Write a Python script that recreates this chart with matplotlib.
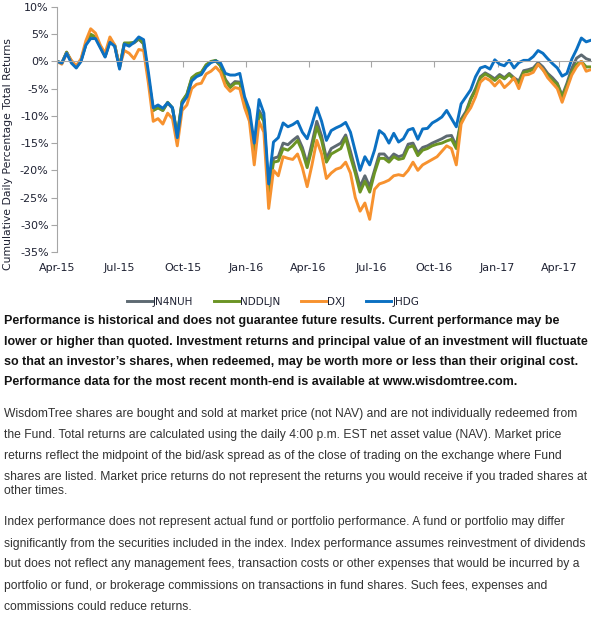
import pandas as pd
import matplotlib
matplotlib.use("Agg")
import matplotlib.pyplot as plt
import matplotlib.dates as mdates
from matplotlib.ticker import FuncFormatter

# weekly samples (cumulative % total return)
dates = pd.date_range("2015-04-01", periods=112, freq="7D")

jn4nuh = [0, -0.3, 1.7, 0, -1.1, 0.2, 3.1, 4.8, 4.4, 2.7,
          0.9, 3.7, 2.9, -1.1, 3.3, 3.2, 3.4, 4.1, 3.2, -3.0,
          -9.0, -8.5, -9.0, -7.6, -8.6, -13.5, -7.4, -6.1, -3.2, -2.4,
          -2.1, -0.7, -0.1, 0.1, -0.8, -3.3, -4.5, -3.7, -3.8, -7.3,
          -9.8, -17.0, -9.0, -10.6, -24.0, -17.8, -17.5, -15.0, -15.3, -14.5,
          -13.8, -15.8, -18.8, -15.0, -11.0, -13.7, -17.8, -16.0, -15.5, -15.0,
          -13.5, -16.5, -19.8, -23.0, -21.0, -23.0, -20.0, -17.0, -17.0, -18.0,
          -17.0, -17.5, -17.2, -15.2, -15.0, -16.8, -15.8, -15.5, -15.0, -14.6,
          -14.2, -13.7, -13.6, -15.5, -10.6, -9.2, -6.8, -5.0, -2.8, -2.1,
          -2.6, -3.2, -2.4, -3.0, -2.2, -3.0, -3.6, -1.7, -1.5, -1.2,
          -0.2, -1.0, -2.2, -3.0, -4.0, -6.3, -4.0, -1.3, 0.6, 1.2,
          0.5, 0.2]

nddljn = [0, -0.3, 1.7, 0, -1.0, 0.3, 3.2, 5.0, 4.5, 2.8,
          1.0, 3.8, 3.0, -1.0, 3.4, 3.4, 3.5, 4.2, 3.3, -3.0,
          -9.0, -8.5, -9.0, -7.5, -8.5, -13.5, -7.3, -6.0, -3.0, -2.3,
          -2.0, -0.6, 0.0, 0.2, -0.8, -3.5, -4.8, -4.0, -4.0, -7.5,
          -10.0, -17.5, -9.5, -11.0, -24.5, -18.5, -18.3, -16.0, -16.3, -15.5,
          -14.5, -16.5, -19.5, -16.0, -12.0, -14.5, -18.5, -17.0, -16.5, -16.0,
          -14.0, -17.5, -20.5, -24.0, -22.0, -24.0, -20.5, -17.8, -17.8, -18.5,
          -17.5, -18.0, -17.8, -15.8, -15.5, -17.3, -16.3, -16.0, -15.5, -15.2,
          -15.0, -14.6, -14.3, -16.0, -11.0, -9.6, -7.0, -5.3, -3.0, -2.3,
          -2.8, -3.5, -2.7, -3.2, -2.4, -3.3, -4.0, -2.0, -1.8, -1.5,
          -0.5, -1.5, -2.5, -3.5, -4.2, -6.5, -4.5, -2.0, -0.5, 0.0,
          -1.0, -1.0]

dxj = [0, -0.5, 1.5, 0.2, -0.8, 0.5, 3.8, 6.0, 5.2, 3.0,
       1.5, 4.5, 3.0, -1.0, 2.0, 1.5, 0.5, 2.2, 2.0, -4.0,
       -11.0, -10.5, -11.5, -9.5, -10.5, -15.5, -9.0, -8.0, -5.0, -4.2,
       -4.0, -2.3, -1.8, -1.0, -2.0, -4.5, -5.5, -4.8, -5.0, -8.5,
       -11.0, -19.0, -11.0, -13.0, -27.0, -20.0, -21.0, -17.5, -17.8, -18.0,
       -17.0, -19.5, -23.0, -19.0, -14.5, -17.0, -21.5, -20.5, -19.8, -19.5,
       -18.5, -20.5, -25.0, -27.5, -26.0, -29.0, -23.5, -22.5, -22.2, -21.8,
       -21.0, -20.8, -21.0, -20.0, -18.5, -20.0, -19.0, -18.5, -18.0, -17.5,
       -16.5, -15.5, -16.0, -19.0, -11.5, -9.8, -8.5, -6.5, -3.8, -3.0,
       -3.5, -4.5, -3.5, -4.8, -4.0, -3.0, -5.0, -2.5, -2.4, -2.0,
       -0.5, -1.5, -3.0, -4.0, -5.0, -7.5, -5.0, -2.5, -1.0, 0.0,
       -1.8, -1.5]

jhdg = [0, -0.3, 1.5, -0.3, -1.2, 0, 3.0, 4.2, 4.2, 2.5,
        0.8, 3.5, 2.8, -1.4, 3.2, 2.8, 3.5, 4.5, 4.0, -2.0,
        -8.5, -8.0, -8.6, -7.6, -8.5, -14.0, -7.8, -6.5, -3.6, -2.8,
        -2.4, -1.0, -0.2, 0.1, -0.3, -2.2, -2.5, -2.5, -2.2, -6.5,
        -8.9, -15.0, -7.0, -9.5, -22.5, -14.8, -14.0, -11.3, -12.0, -11.6,
        -11.0, -13.0, -14.2, -11.5, -8.5, -11.0, -14.5, -12.7, -12.2, -11.8,
        -11.2, -13.0, -16.5, -20.0, -17.5, -19.0, -16.3, -12.7, -13.4, -15.0,
        -13.2, -14.8, -14.2, -12.6, -12.3, -14.3, -12.4, -12.3, -11.3, -10.8,
        -10.2, -9.0, -10.5, -12.0, -7.8, -6.5, -5.2, -2.8, -1.2, -0.9,
        -1.4, 0.3, -0.5, -0.8, 0.2, -1.2, -0.2, 0.2, 0.2, 0.9,
        2.0, 1.5, 0.5, -0.4, -1.2, -2.7, -2.2, 0.4, 2.2, 4.3,
        3.6, 3.9]

names = ["JN4NUH", "NDDLJN", "DXJ", "JHDG"]
series = [jn4nuh, nddljn, dxj, jhdg]
colors = ["#5E6A72", "#6B9424", "#F7922F", "#0B70C2"]

bold_lines = [
    "Performance is historical and does not guarantee future results. Current performance may be",
    "lower or higher than quoted. Investment returns and principal value of an investment will fluctuate",
    "so that an investor\u2019s shares, when redeemed, may be worth more or less than their original cost.",
    "Performance data for the most recent month-end is available at www.wisdomtree.com.",
]
para2_lines = [
    "WisdomTree shares are bought and sold at market price (not NAV) and are not individually redeemed from",
    "the Fund. Total returns are calculated using the daily 4:00 p.m. EST net asset value (NAV). Market price",
    "returns reflect the midpoint of the bid/ask spread as of the close of trading on the exchange where Fund",
    "shares are listed. Market price returns do not represent the returns you would receive if you traded shares at",
    "other times.",
]
para3_lines = [
    "Index performance does not represent actual fund or portfolio performance. A fund or portfolio may differ",
    "significantly from the securities included in the index. Index performance assumes reinvestment of dividends",
    "but does not reflect any management fees, transaction costs or other expenses that would be incurred by a",
    "portfolio or fund, or brokerage commissions on transactions in fund shares. Such fees, expenses and",
    "commissions could reduce returns.",
]

W, H = 594, 623
axis_grey = "#A6A6A6"
tick_color = "#1F2233"

fig = plt.figure(figsize=(W / 100, H / 100), dpi=100)
ax = fig.add_axes([57 / W, 1 - 252 / H, 534 / W, 245 / H])

for name, vals, c in zip(names, series, colors):
    ax.plot(dates, vals, color=c, lw=2.1, label=name, solid_joinstyle="round")

ax.set_ylim(-35, 10)
ax.set_yticks(range(-35, 11, 5))
ax.yaxis.set_major_formatter(FuncFormatter(lambda v, p: f"{v:.0f}%"))
ax.set_xlim(pd.Timestamp("2015-04-01"), pd.Timestamp("2017-05-17"))
ax.xaxis.set_major_locator(mdates.MonthLocator(bymonth=[1, 4, 7, 10]))

for s in ["top", "right"]:
    ax.spines[s].set_visible(False)
ax.spines["bottom"].set_position(("data", 0))
ax.spines["bottom"].set_color(axis_grey)
ax.spines["left"].set_color(axis_grey)
ax.tick_params(axis="x", direction="out", length=4, color=axis_grey, labelbottom=False)
ax.tick_params(axis="y", direction="out", length=4, color=axis_grey,
               labelsize=8, labelcolor=tick_color, pad=2)

sec = ax.secondary_xaxis("bottom")
sec.xaxis.set_major_locator(mdates.MonthLocator(bymonth=[1, 4, 7, 10]))
sec.xaxis.set_major_formatter(mdates.DateFormatter("%b-%y"))
sec.spines["bottom"].set_visible(False)
sec.tick_params(length=0, pad=8, labelsize=8, labelcolor=tick_color)

fig.text(8 / W, 1 - 154 / H, "Cumulative Daily Percentage Total Returns",
         rotation=90, ha="center", va="center", fontsize=7.8, color=tick_color)

fig.legend(loc="center", bbox_to_anchor=(273 / W, 1 - 302 / H), ncol=4,
           frameon=False, fontsize=7.5, handlelength=2.4, handletextpad=0.1,
           columnspacing=2.0, labelcolor=tick_color)


def put_paragraph(lines, ys, target_w, weight, color):
    # size the font so the widest line spans target_w pixels
    texts = [fig.text(4 / W, 1 - y / H, ln, ha="left", va="center", fontsize=10,
                      family=["Liberation Sans", "DejaVu Sans"], fontweight=weight,
                      color=color)
             for ln, y in zip(lines, ys)]
    r = fig.canvas.get_renderer()
    widest = max(t.get_window_extent(r).width for t in texts)
    size = 10 * target_w / widest
    for t in texts:
        t.set_fontsize(size)


put_paragraph(bold_lines, [321, 341.5, 362, 382], 585, "bold", "#141414")
put_paragraph(para2_lines, [414, 435, 456, 477, 490.5], 582, "normal", "#333333")
put_paragraph(para3_lines, [522.5, 543.5, 564.5, 585.5, 606.5], 585, "normal", "#333333")

fig.savefig("out.png", dpi=100)
